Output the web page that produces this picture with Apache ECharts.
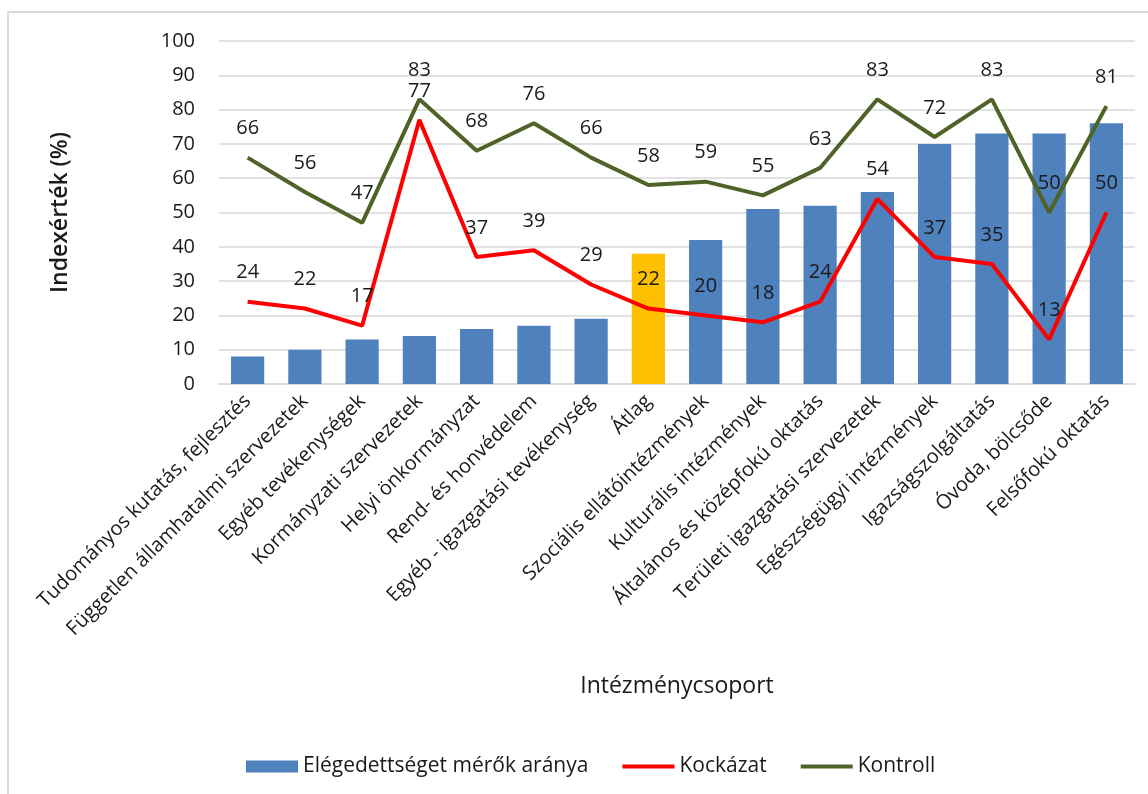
<!DOCTYPE html>
<html>
<head>
<meta charset="utf-8">
<script src="https://cdn.jsdelivr.net/npm/echarts@6/dist/echarts.min.js"></script>
<style>
html, body { margin: 0; padding: 0; background: #fff; }
#chart { width: 1148px; height: 794px; }
</style>
</head>
<body>
<div id="chart"></div>
<script>
var categories = [
    "Tudományos kutatás, fejlesztés",
    "Független államhatalmi szervezetek",
    "Egyéb tevékenységek",
    "Kormányzati szervezetek",
    "Helyi önkormányzat",
    "Rend- és honvédelem",
    "Egyéb - igazgatási tevékenység",
    "Átlag",
    "Szociális ellátóintézmények",
    "Kulturális intézmények",
    "Általános és középfokú oktatás",
    "Területi igazgatási szervezetek",
    "Egészségügyi intézmények",
    "Igazságszolgáltatás",
    "Óvoda, bölcsőde",
    "Felsőfokú oktatás"
];
var meroAranya = [8, 10, 13, 14, 16, 17, 19, 38, 42, 51, 52, 56, 70, 73, 73, 76];
var kockazat = [24, 22, 17, 77, 37, 39, 29, 22, 20, 18, 24, 54, 37, 35, 13, 50];
var kontroll = [66, 56, 47, 83, 68, 76, 66, 58, 59, 55, 63, 83, 72, 83, 50, 81];
var highlighted = "Átlag";

var font = "Open Sans";
var textColor = "#1a1a1a";

var barData = meroAranya.map(function (v, i) {
    if (categories[i] === highlighted) {
        return { value: v, itemStyle: { color: "#ffc000" } };
    }
    return v;
});

function lineLabel() {
    return {
        show: true,
        position: "top",
        distance: 19,
        fontFamily: font,
        fontSize: 20,
        color: textColor
    };
}

var chart = echarts.init(document.getElementById("chart"));
chart.setOption({
    animation: false,
    textStyle: { fontFamily: font, color: textColor },
    graphic: [
        {
            type: "rect",
            shape: { x: 8, y: 12, width: 1200, height: 900 },
            style: { fill: "none", stroke: "#d9d9d9", lineWidth: 2 }
        }
    ],
    grid: { left: 219, right: 13, top: 41, bottom: 410 },
    legend: {
        left: 241,
        top: 751,
        itemWidth: 52,
        itemHeight: 12,
        itemGap: 34,
        textStyle: { fontFamily: font, fontSize: 21, color: textColor },
        data: [
            { name: "Elégedettséget mérők aránya", icon: "rect" },
            { name: "Kockázat", icon: "path://M0,0H52V4H0Z" },
            { name: "Kontroll", icon: "path://M0,0H52V4H0Z" }
        ]
    },
    xAxis: {
        type: "category",
        data: categories,
        name: "Intézménycsoport",
        nameLocation: "middle",
        nameGap: 291,
        nameTextStyle: { fontFamily: font, fontSize: 23, color: textColor },
        axisLine: { lineStyle: { color: "#d9d9d9", width: 1.5 } },
        axisTick: { show: false },
        axisLabel: {
            rotate: 45,
            margin: 14,
            interval: 0,
            fontFamily: font,
            fontSize: 20,
            color: textColor
        }
    },
    yAxis: {
        type: "value",
        min: 0,
        max: 100,
        interval: 10,
        name: "Indexérték (%)",
        nameLocation: "middle",
        nameGap: 147,
        nameTextStyle: { fontFamily: font, fontSize: 23, fontWeight: 600, color: textColor },
        axisLabel: { margin: 24, fontFamily: font, fontSize: 20, color: textColor },
        splitLine: { lineStyle: { color: "#d9d9d9", width: 1.5 } }
    },
    series: [
        {
            name: "Elégedettséget mérők aránya",
            type: "bar",
            data: barData,
            barCategoryGap: "42%",
            itemStyle: { color: "#4f81bd" }
        },
        {
            name: "Kockázat",
            type: "line",
            data: kockazat,
            symbol: "circle",
            symbolSize: 0.1,
            showAllSymbol: true,
            color: "#ff0000",
            lineStyle: { color: "#ff0000", width: 4 },
            label: lineLabel()
        },
        {
            name: "Kontroll",
            type: "line",
            data: kontroll,
            symbol: "circle",
            symbolSize: 0.1,
            showAllSymbol: true,
            color: "#4f6228",
            lineStyle: { color: "#4f6228", width: 4 },
            label: lineLabel()
        }
    ]
});
</script>
</body>
</html>
